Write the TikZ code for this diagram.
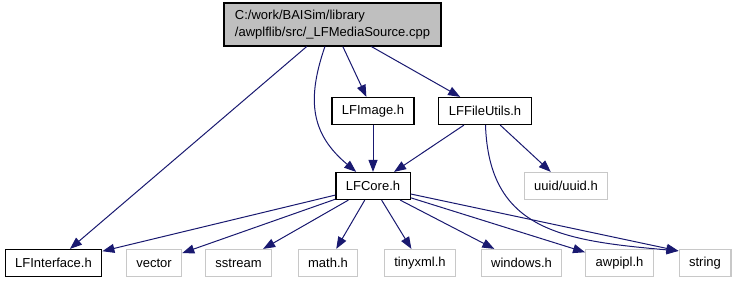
\documentclass[tikz,border=0pt]{standalone}
\usepackage{fontspec}
\setmainfont{Liberation Sans}
\usetikzlibrary{arrows.meta}
\definecolor{edgeblue}{HTML}{191970}
\definecolor{boxgray}{HTML}{BFBFBF}
\definecolor{extgray}{HTML}{C8C8C8}

\begin{document}
\begin{tikzpicture}[x=1pt, y=1pt,
	font=\fontsize{13}{17}\selectfont,
	file/.style={rectangle, draw=black, line width=1.2pt, fill=white, inner xsep=10pt, inner ysep=0pt, minimum height=27pt},
	extfile/.style={file, draw=extgray},
	dep/.style={draw=edgeblue, line width=1pt, -{Triangle[length=12pt,width=9pt]}}]
		
		\useasboundingbox (0,0) rectangle (738,-283);
		
		%Source file
		\node[file, fill=boxgray, align=left, minimum width=217pt, minimum height=43pt] (src) at (332.5,-24.5){C:/work/BAISim/library\\/awplflib/src/\_LFMediaSource.cpp};
		
		%Project headers
		\node[file] (image) at (373,-111){LFImage.h};
		\node[file] (futils) at (485,-111){LFFileUtils.h};
		\node[file] (core) at (373,-186){LFCore.h};
		\node[file] (iface) at (53.5,-263){LFInterface.h};
		
		%System headers
		\node[extfile] (uuid) at (566,-186){uuid/uuid.h};
		\node[extfile] (vector) at (154,-263){vector};
		\node[extfile] (sstream) at (238.5,-263){sstream};
		\node[extfile] (math) at (328,-263){math.h};
		\node[extfile] (tinyxml) at (420,-263){tinyxml.h};
		\node[extfile] (windows) at (521.5,-263){windows.h};
		\node[extfile] (awpipl) at (619.5,-263){awpipl.h};
		\node[extfile] (string) at (705,-263){string};
		
		%Includes of the source file
		\draw[dep] (src) -- (iface);
		\draw[dep] (src) to[out=-109, in=140, looseness=1.15] (core);
		\draw[dep] (src) -- (image);
		\draw[dep] (src) -- (futils);
		
		%Includes of LFImage.h and LFFileUtils.h
		\draw[dep] (image) -- (core);
		\draw[dep] (futils) -- (core);
		\draw[dep] (futils) -- (uuid);
		\draw[dep] (futils) to[out=-88, in=175, out distance=105pt, in distance=118pt] ([yshift=-2pt]string.north west);
		
		%Includes of LFCore.h
		\draw[dep] (core) -- (iface);
		\draw[dep] (core) -- (vector);
		\draw[dep] (core) -- (sstream);
		\draw[dep] (core) -- (math);
		\draw[dep] (core) -- (tinyxml);
		\draw[dep] (core) -- (windows);
		\draw[dep] (core) -- (awpipl);
		\draw[dep] (core) -- ([yshift=-2pt]string.north west);
		
\end{tikzpicture}
\end{document}
